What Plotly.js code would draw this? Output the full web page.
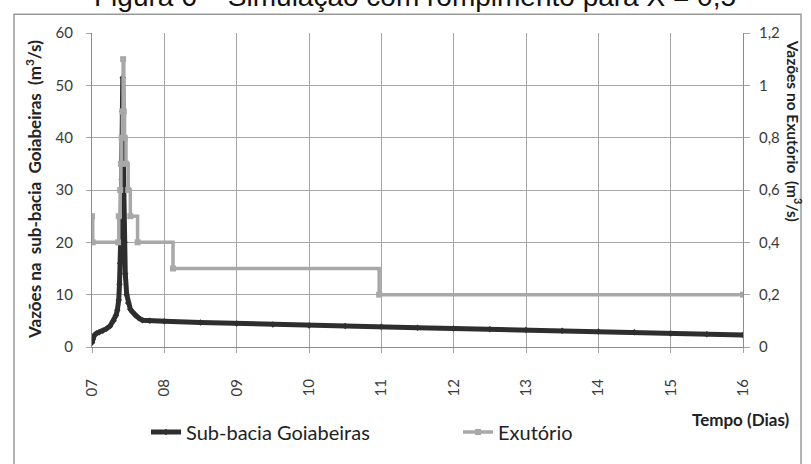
<!DOCTYPE html>
<html>
<head>
<meta charset="utf-8">
<script src="https://cdn.plot.ly/plotly-3.0.1.min.js"></script>
<style>html,body{margin:0;padding:0;background:#fff;}#chart{width:811px;height:464px;}</style>
</head>
<body>
<div id="chart"></div>
<script>
// Sub-bacia Goiabeiras (m3/s), left axis
const tempoSub = [7.00, 7.01, 7.03, 7.06, 7.10, 7.15, 7.20, 7.25, 7.30, 7.33, 7.35, 7.37, 7.38, 7.39, 7.40, 7.41, 7.42, 7.425, 7.43, 7.44, 7.45, 7.46, 7.48, 7.50, 7.53, 7.56, 7.60, 7.65, 7.70, 7.80, 8.0, 8.5, 9.0, 9.5, 10.0, 10.5, 11.0, 11.5, 12.0, 12.5, 13.0, 13.5, 14.0, 14.5, 15.0, 15.5, 16.0];
const vazaoSub = [0.8, 1.5, 2.2, 2.6, 2.8, 3.1, 3.5, 4.0, 5.0, 6.0, 7.0, 9.0, 12, 16, 22, 32, 45, 51.5, 44, 30, 20, 14, 10, 8.4, 7.2, 6.7, 6.0, 5.5, 5.1, 5.0, 4.9, 4.7, 4.5, 4.3, 4.1, 4.0, 3.85, 3.7, 3.55, 3.4, 3.25, 3.1, 2.95, 2.8, 2.6, 2.45, 2.3];
// Exutório (m3/s), right axis
const tempoExu = [7.00, 7.01, 7.36, 7.37, 7.39, 7.40, 7.41, 7.42, 7.43, 7.44, 7.45, 7.47, 7.50, 7.53, 7.63, 8.12, 10.97, 16.0];
const vazaoExu = [0.5, 0.4, 0.4, 0.5, 0.6, 0.7, 0.8, 0.9, 1.1, 0.9, 0.8, 0.7, 0.6, 0.5, 0.4, 0.3, 0.2, 0.2];
// Tick labels
const diasVals = [7, 8, 9, 10, 11, 12, 13, 14, 15, 16];
const diasText = ["07", "08", "09", "10", "11", "12", "13", "14", "15", "16"];

const W = 811, H = 464, L = 92, R = 743, T = 33, B = 351;
const px = x => (x - L) / (R - L);
const py = y => (B - y) / (B - T);

const FONT = "Lato, 'Open Sans', sans-serif";
const tickFont = {family: FONT, size: 15, color: "#3a3a3a"};

const traces = [
  {
    x: tempoExu, y: vazaoExu, yaxis: "y2", name: "Exutório",
    type: "scatter", mode: "lines+markers", line: {shape: "hv", color: "#a8a8a8", width: 3.5},
    marker: {symbol: "square", size: 6, color: "#a8a8a8"}, legend: "legend2"
  },
  {
    x: tempoSub, y: vazaoSub, name: "Sub-bacia Goiabeiras",
    type: "scatter", mode: "lines+markers", line: {color: "#2e2e2e", width: 5},
    marker: {symbol: "diamond", size: 5, color: "#2e2e2e"}, legend: "legend"
  }
];

const layout = {
  width: W, height: H,
  margin: {l: L, r: W - R, t: T, b: H - B, pad: 0},
  paper_bgcolor: "#fff", plot_bgcolor: "#fff",
  separators: ",.",
  showlegend: true,
  xaxis: {
    range: [7, 16], tickvals: diasVals, ticktext: diasText, tickangle: -90,
    showgrid: true, gridcolor: "#a6a6a6", gridwidth: 1,
    showline: true, linecolor: "#8c8c8c", linewidth: 1,
    ticks: "outside", ticklen: 5, tickcolor: "#a6a6a6",
    ticklabelstandoff: 20,
    tickfont: tickFont, zeroline: false, fixedrange: true
  },
  yaxis: {
    range: [0, 60], dtick: 10, tick0: 0,
    showgrid: true, gridcolor: "#a6a6a6", gridwidth: 1,
    showline: true, linecolor: "#8c8c8c", linewidth: 1,
    ticks: "outside", ticklen: 5, tickcolor: "#a6a6a6",
    ticklabelstandoff: 10,
    tickfont: tickFont, zeroline: false, fixedrange: true
  },
  yaxis2: {
    range: [0, 1.2], dtick: 0.2, tick0: 0, overlaying: "y", side: "right",
    showgrid: false, showline: true, linecolor: "#8c8c8c", linewidth: 1,
    ticks: "outside", ticklen: 6, tickcolor: "#a6a6a6",
    ticklabelstandoff: 6,
    tickfont: tickFont, zeroline: false, fixedrange: true
  },
  legend: {
    orientation: "h", x: px(146), y: py(437), xanchor: "left", yanchor: "middle",
    font: {family: FONT, size: 20, color: "#222"},
    bgcolor: "rgba(0,0,0,0)", itemwidth: 30
  },
  legend2: {
    orientation: "h", x: px(458), y: py(437), xanchor: "left", yanchor: "middle",
    font: {family: FONT, size: 20, color: "#222"},
    bgcolor: "rgba(0,0,0,0)", itemwidth: 30
  },
  shapes: [
    {type: "rect", xref: "paper", yref: "paper", x0: px(14), x1: px(801), y0: py(475), y1: py(14),
     line: {color: "#9a9a9a", width: 1.5}, fillcolor: "rgba(0,0,0,0)", layer: "below"}
  ],
  annotations: [
    {text: "Figura 6 – Simulação com rompimento para X = 0,5", xref: "paper", yref: "paper",
     x: px(92), y: py(-4), xanchor: "left", yanchor: "middle", showarrow: false,
     font: {family: "'Liberation Sans', Arial, sans-serif", size: 28, color: "#111"}},
    {text: "<b>Vazões na  sub-bacia  Goiabeiras  (m<sup>3</sup>/s)</b>", xref: "paper", yref: "paper",
     x: px(33), y: py(192), xanchor: "center", yanchor: "middle", textangle: -90, showarrow: false,
     font: {family: FONT, size: 17, color: "#222"}},
    {text: "<b>Vazões no Exutório  (m<sup>3</sup>/s)</b>", xref: "paper", yref: "paper",
     x: px(794), y: py(132), xanchor: "center", yanchor: "middle", textangle: 90, showarrow: false,
     font: {family: FONT, size: 15.5, color: "#222"}},
    {text: "<b>Tempo (Dias)</b>", xref: "paper", yref: "paper",
     x: px(741), y: py(424), xanchor: "center", yanchor: "middle", showarrow: false,
     font: {family: FONT, size: 17, color: "#222"}}
  ]
};

Plotly.newPlot("chart", traces, layout, {displayModeBar: false, staticPlot: true});
</script>
</body>
</html>
